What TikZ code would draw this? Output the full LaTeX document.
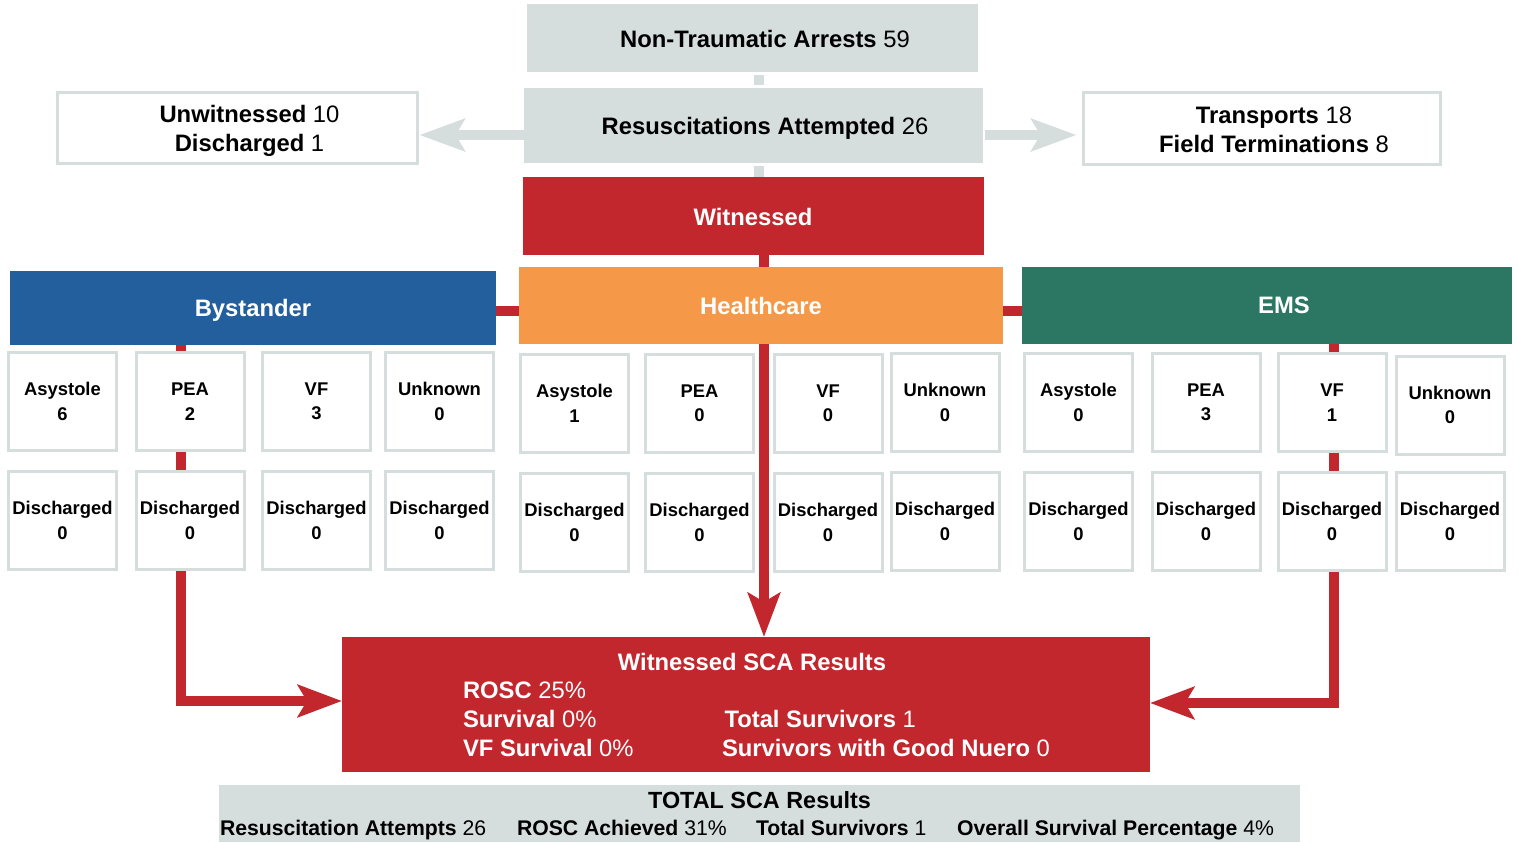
\documentclass[tikz,border=0pt]{standalone}
\usepackage{fontspec}
\setmainfont{Liberation Sans}
\usetikzlibrary{arrows.meta,calc,backgrounds}

\definecolor{boxgray}{HTML}{D5DEDC}
\definecolor{scared}{HTML}{C1272D}
\definecolor{byblue}{HTML}{235F9C}
\definecolor{hcorange}{HTML}{F59847}
\definecolor{emsgreen}{HTML}{2C7763}

\newcommand\bigfont{\fontsize{23.8}{29}\selectfont}
\newcommand\cellfont{\fontsize{18.4}{24.5}\selectfont\bfseries}
\newcommand\barfont{\fontsize{21.2}{26}\selectfont}

\begin{document}
\begin{tikzpicture}[x=1pt,y=-1pt,
  every node/.style={inner sep=0pt, outer sep=0pt},
  panel/.style={fill=boxgray},
  frame/.style={draw=boxgray, line width=3pt, fill=white},
  cell/.style={frame, minimum width=108pt, minimum height=98pt, align=center, font=\cellfont},
  banner/.style={text=white, font=\bigfont\bfseries, text depth=0pt},
  label/.style={font=\bigfont, align=center},
  restext/.style={font=\bigfont, text=white, anchor=base west},
  bartext/.style={font=\barfont, anchor=base west},
  redlink/.style={draw=scared, line width=10pt},
  redarrow/.style={redlink, -{Stealth[length=44pt,width=32pt,inset=9pt]}},
  graylink/.style={draw=boxgray, line width=10pt},
  grayarrow/.style={graylink, -{Stealth[length=45pt,width=32pt,inset=9pt]}}]
\useasboundingbox (0,0) rectangle (1519,843);

% top summary boxes
\node[panel, minimum width=451pt, minimum height=68pt] (nta) at (752.5,38) {};
\node[label] (nta-t) at (765,39) {\textbf{Non-Traumatic Arrests} 59};
\node[panel, minimum width=459pt, minimum height=75pt] (resus) at (753.5,125.5) {};
\node[label, text depth=0pt] (resus-t) at (765,126) {\textbf{Resuscitations Attempted} 26};
\node[frame, minimum width=360pt, minimum height=71pt] (unw) at (237.5,128) {};
\node[label] (unw-t) at (249.5,130.5) {\textbf{Unwitnessed} 10\\\textbf{Discharged} 1};
\node[frame, minimum width=357pt, minimum height=72pt] (trn) at (1262,128.5) {};
\node[label] (trn-t) at (1274,129.5) {\textbf{Transports} 18\\\textbf{Field Terminations} 8};

% witnessed split
\node[fill=scared, minimum width=461pt, minimum height=78pt, banner] (wit) at (753.5,216) {};
\node[banner] (wit-t) at (753,217) {Witnessed};
\node[fill=byblue, minimum width=486pt, minimum height=74pt, banner] (by) at (253,308) {Bystander};
\node[fill=hcorange, minimum width=484pt, minimum height=77pt, banner] (hc) at (761,305.5) {Healthcare};
\node[fill=emsgreen, minimum width=490pt, minimum height=77pt] (ems) at (1267,305.5) {};
\node[banner] (ems-t) at (1284,305) {EMS};

% bystander rhythms
\node[cell] (by1) at (62.5,401.5) {Asystole\\6};
\node[cell] (by2) at (190,401.5) {PEA\\2};
\node[cell] (by3) at (316.5,401.5) {VF\\3};
\node[cell] (by4) at (439.5,401.5) {Unknown\\0};
\node[cell] (byd1) at (62.5,520.5) {Discharged\\0};
\node[cell] (byd2) at (190,520.5) {Discharged\\0};
\node[cell] (byd3) at (316.5,520.5) {Discharged\\0};
\node[cell] (byd4) at (439.5,520.5) {Discharged\\0};

% healthcare rhythms
\node[cell] (hc1) at (574.5,403.5) {Asystole\\1};
\node[cell] (hc2) at (699.5,403.5) {PEA\\0};
\node[cell] (hc3) at (828,403.5) {VF\\0};
\node[cell] (hc4) at (945,402.5) {Unknown\\0};
\node[cell] (hcd1) at (574.5,522.5) {Discharged\\0};
\node[cell] (hcd2) at (699.5,522.5) {Discharged\\0};
\node[cell] (hcd3) at (828,522.5) {Discharged\\0};
\node[cell] (hcd4) at (945,521.5) {Discharged\\0};

% EMS rhythms
\node[cell] (ems1) at (1078.5,402.5) {Asystole\\0};
\node[cell] (ems2) at (1206,402.5) {PEA\\3};
\node[cell] (ems3) at (1332,402.5) {VF\\1};
\node[cell] (ems4) at (1450,405) {Unknown\\0};
\node[cell] (emsd1) at (1078.5,521.5) {Discharged\\0};
\node[cell] (emsd2) at (1206,521.5) {Discharged\\0};
\node[cell] (emsd3) at (1332,521.5) {Discharged\\0};
\node[cell] (emsd4) at (1450,521.5) {Discharged\\0};

% witnessed results
\node[fill=scared, minimum width=808pt, minimum height=135pt] (res) at (746,704.5) {};
\node[font=\bigfont\bfseries, text=white, anchor=base] (res-t) at (752,670) {Witnessed SCA Results};
\node[restext] (rosc) at (463,698) {\textbf{ROSC} 25\%};
\node[restext] (surv) at (463,727) {\textbf{Survival} 0\%};
\node[restext] (vfsurv) at (463,756) {\textbf{VF Survival} 0\%};
\node[restext] (tsurv) at (724.5,727) {\textbf{Total Survivors} 1};
\node[restext] (good) at (722,756) {\textbf{Survivors with Good Nuero} 0};

% overall totals
\node[panel, minimum width=1081pt, minimum height=57pt] (tot) at (759.5,813.5) {};
\node[font=\fontsize{23.4}{28}\selectfont\bfseries, anchor=base] (tot-t) at (759.5,808) {TOTAL SCA Results};
\node[bartext] (tot1) at (220,835) {\textbf{Resuscitation Attempts} 26};
\node[bartext] (tot2) at (517,835) {\textbf{ROSC Achieved} 31\%};
\node[bartext] (tot3) at (756,835) {\textbf{Total Survivors} 1};
\node[bartext] (tot4) at (957,835) {\textbf{Overall Survival Percentage} 4\%};

% connectors, kept behind the boxes
\begin{scope}[on background layer]
  \coordinate (topaxis) at (759,0);
  \draw[graylink, shorten <=3pt, shorten >=3pt] (nta.south -| topaxis) -- (resus.north -| topaxis);
  \draw[graylink, shorten <=3pt] (resus.south -| topaxis) -- (wit.north -| topaxis);
  \coordinate (sidey) at (0,135);
  \draw[grayarrow, shorten >=2pt] (resus.west |- sidey) -- (unw.east |- sidey);
  \draw[grayarrow, shorten <=2pt, shorten >=7pt] (resus.east |- sidey) -- (trn.west |- sidey);

  \coordinate (spine) at (764,0);
  \draw[redarrow] (wit.south -| spine) -- (res.north -| spine);
  \coordinate (rowy) at (0,311);
  \draw[redlink] (by.east |- rowy) -- (ems.west |- rowy);
  \coordinate (byaxis) at (181,701);
  \draw[redarrow] (by.south -| byaxis) |- (res.west |- byaxis);
  \coordinate (emsaxis) at (1334,703);
  \draw[redarrow] (ems.south -| emsaxis) |- (res.east |- emsaxis);
\end{scope}
\end{tikzpicture}
\end{document}
